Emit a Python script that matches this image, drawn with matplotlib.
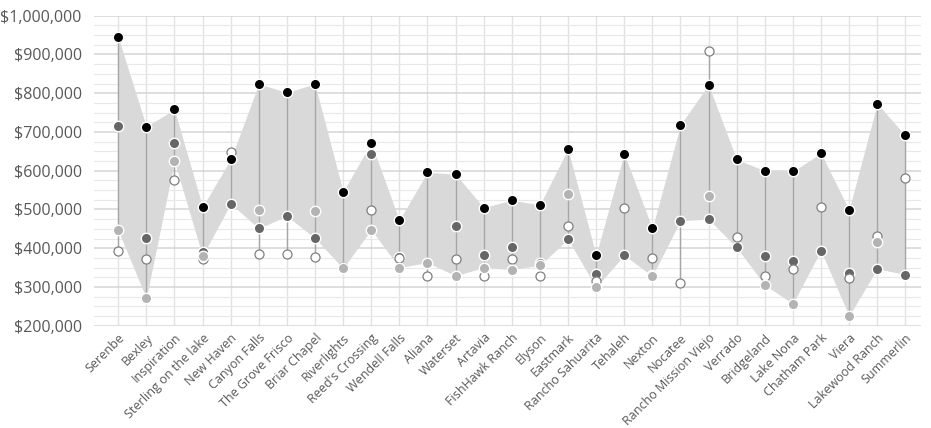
import numpy as np
import matplotlib.pyplot as plt
from matplotlib.ticker import MultipleLocator, FuncFormatter

plt.rcParams['font.family'] = ['Open Sans', 'DejaVu Sans']

# --- datos (miles de dólares) ---
comunidades = ["Serenbe", "Bexley", "Inspiration", "Sterling on the lake", "New Haven",
               "Canyon Falls", "The Grove Frisco", "Briar Chapel", "Riverlights",
               "Reed's Crossing", "Wendell Falls", "Aliana", "Waterset", "Artavia",
               "FishHawk Ranch", "Elyson", "Eastmark", "Rancho Sahuarita", "Tehaleh",
               "Nexton", "Nocatee", "Rancho Mission Viejo", "Verrado", "Bridgeland",
               "Lake Nona", "Chatham Park", "Viera", "Lakewood Ranch", "Summerlin"]

nan = np.nan
serie_negra = [945, 714, 758, 507, 629, 824, 802, 824, 546, 672, 472, 596, 591, 505, 524,
               512, 656, 382, 644, 451, 718, 822, 629, 600, 598, 645, 499, 773, 691]
serie_oscura = [715, 427, 672, 389, 515, 451, 483, 426, nan, 644, 378, nan, 457, 382, 403,
                363, 423, 333, 382, 331, 471, 475, 402, 379, 367, 394, 336, 347, 332]
serie_clara = [446, 271, 624, 380, nan, 499, nan, 495, 348, 448, 350, 363, 329, 350, 345,
               356, 540, 299, nan, 328, nan, 536, nan, 305, 257, nan, 225, 417, nan]
serie_blanca = [393, 372, 577, 372, 648, 384, 384, 377, 352, 499, 375, 328, 372, 328, 372,
                328, 457, 316, 505, 374, 311, 909, 429, 328, 347, 507, 322, 432, 582]

negra = np.array(serie_negra, dtype=float) * 1000
oscura = np.array(serie_oscura, dtype=float) * 1000
clara = np.array(serie_clara, dtype=float) * 1000
blanca = np.array(serie_blanca, dtype=float) * 1000
x = np.arange(len(comunidades))

fig = plt.figure(figsize=(9.31, 4.28), dpi=100)
ax = fig.add_axes([0.1013, 0.239, 0.8877, 0.7243])

# banda sombreada entre máximo y mínimo de las tres series
tres = np.vstack([negra, oscura, clara])
ax.fill_between(x, np.nanmax(tres, axis=0), np.nanmin(tres, axis=0),
                color='#d9d9d9', linewidth=0, zorder=1)

# líneas alto-bajo
todas = np.vstack([negra, oscura, clara, blanca])
ax.vlines(x, np.nanmin(todas, axis=0), np.nanmax(todas, axis=0),
          color='#a6a6a6', linewidth=1, zorder=2)

# puntos
ax.plot(x, oscura, 'o', ms=7.5, mfc='#666666', mec='white', mew=1, zorder=3)
ax.plot(x, blanca, 'o', ms=6.5, mfc='white', mec='#808080', mew=0.9, zorder=4)
ax.plot(x, clara, 'o', ms=7.5, mfc='#b3b3b3', mec='white', mew=1, zorder=5)
ax.plot(x, negra, 'o', ms=7.5, mfc='black', mec='white', mew=1, zorder=6)

# ejes
ax.set_ylim(200000, 1000000)
ax.set_xlim(-0.85, 28.55)
ax.yaxis.set_major_locator(MultipleLocator(100000))
ax.yaxis.set_minor_locator(MultipleLocator(25000))
ax.yaxis.set_major_formatter(FuncFormatter(lambda v, p: f"${v:,.0f}"))
ax.set_xticks(x)
ax.set_xticklabels(comunidades, rotation=45, ha='right', rotation_mode='anchor',
                   fontsize=9, color='#595959')
ax.tick_params(axis='y', length=0, pad=9, labelsize=11.5, labelcolor='#595959')
ax.tick_params(axis='x', length=0, pad=4)
ax.tick_params(which='minor', length=0)

ax.grid(which='major', axis='y', color='#d4d4d4', linewidth=1.1, zorder=0)
ax.grid(which='minor', axis='y', color='#e8e8e8', linewidth=0.8, zorder=0)
ax.grid(which='major', axis='x', color='#e2e2e2', linewidth=1, zorder=0)
ax.set_axisbelow(True)
for s in ax.spines.values():
    s.set_visible(False)

plt.savefig('out.png', dpi=100)
